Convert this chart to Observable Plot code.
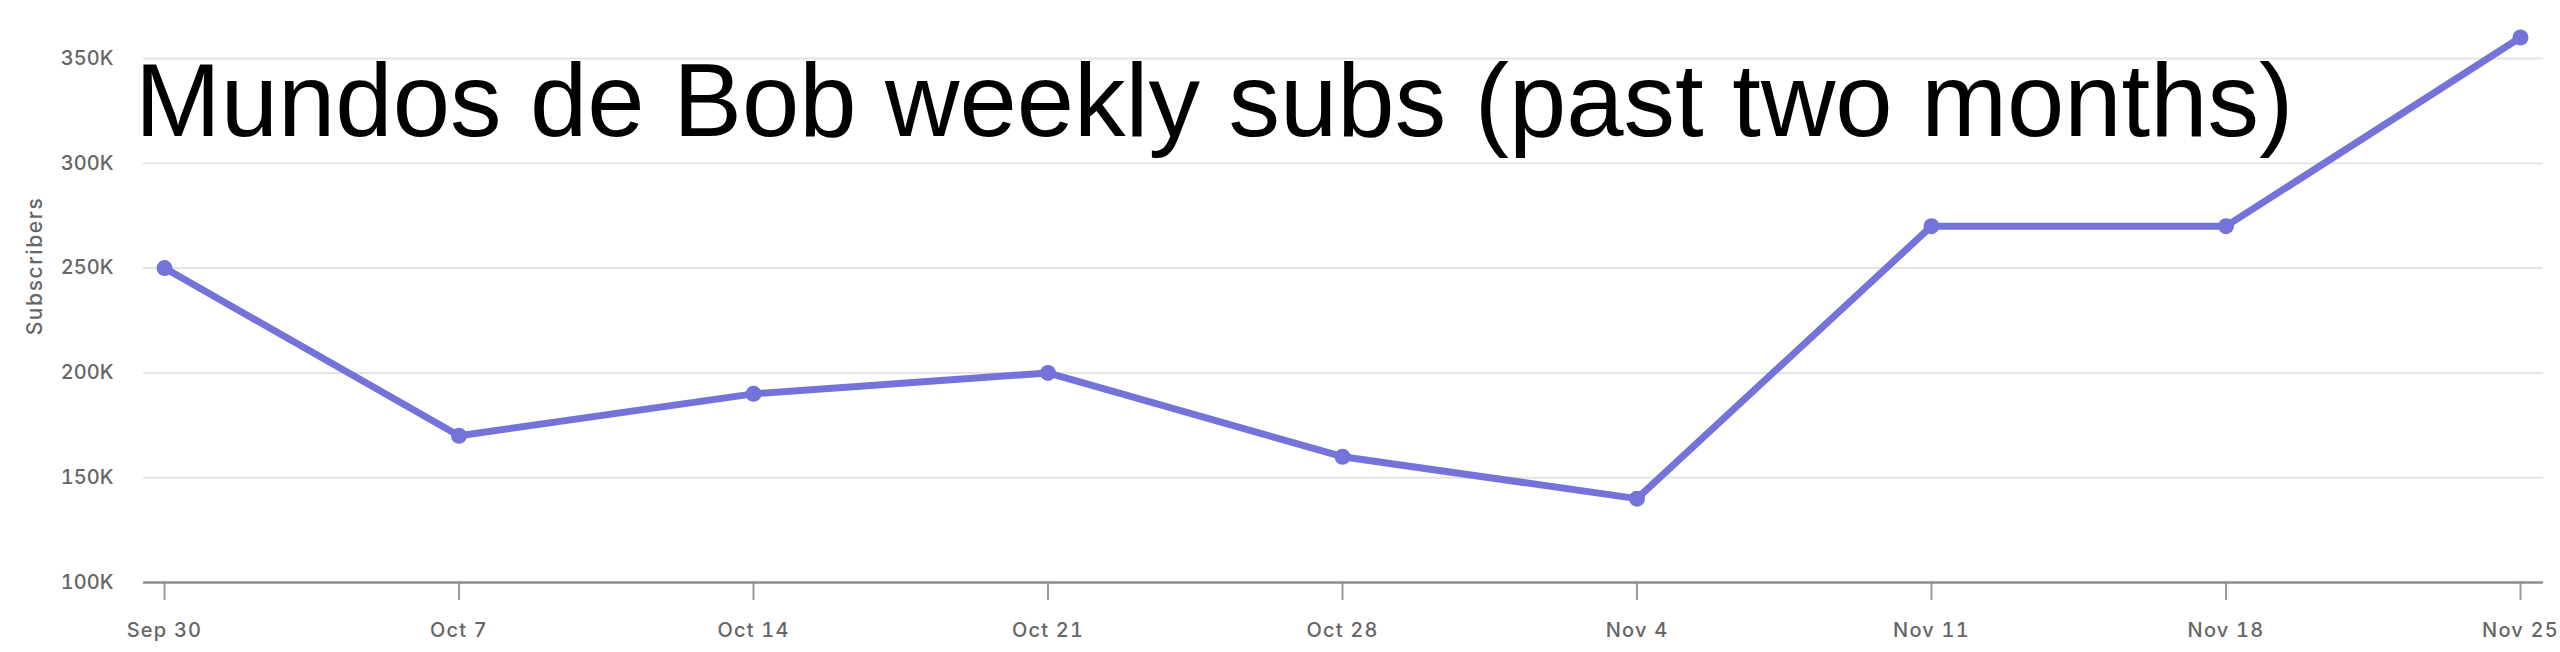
<!DOCTYPE html>
<html>
<head>
<meta charset="utf-8">
<script src="https://cdn.jsdelivr.net/npm/d3@7"></script>
<script src="https://cdn.jsdelivr.net/npm/@observablehq/plot@0.6"></script>
<style>
  html, body { margin: 0; padding: 0; background: #fff; }
  #chart { position: relative; width: 2560px; height: 652px; }
</style>
</head>
<body>
<div id="chart"></div>
<script>
const weeks = ["2023-09-30", "2023-10-07", "2023-10-14", "2023-10-21", "2023-10-28", "2023-11-04", "2023-11-11", "2023-11-18", "2023-11-25"];
const subscribers = [250000, 170000, 190000, 200000, 160000, 140000, 270000, 270000, 360000];
const yTicks = [100000, 150000, 200000, 250000, 300000, 350000];
const titleText = "Mundos de Bob weekly subs (past two months)";
const yLabel = "Subscribers";

const data = weeks.map((w, i) => ({date: new Date(w + "T00:00:00Z"), value: subscribers[i]}));

const fmtX = d3.utcFormat("%b %-d");
const fmtY = d => (d / 1000) + "K";
const fontFam = "Inter, 'Open Sans', sans-serif";

const plot = Plot.plot({
  width: 2560,
  height: 652,
  marginTop: 37,
  marginBottom: 70,
  marginLeft: 143,
  marginRight: 17,
  insetLeft: 21,
  insetRight: 23,
  style: {fontFamily: fontFam, fontSize: "20px", color: "#666", background: "#fff"},
  x: {type: "utc", domain: [data[0].date, data[data.length - 1].date]},
  y: {domain: [100000, 360000]},
  marks: [
    Plot.gridY(yTicks.slice(1), {stroke: "#e4e4e4", strokeOpacity: 1, strokeWidth: 2}),
    Plot.axisY(yTicks, {tickSize: 0, tickPadding: 30, tickFormat: fmtY, label: null, fill: "#666", fontWeight: 500, fontSize: 20}),
    Plot.axisX(data.map(d => d.date), {tickSize: 18, tickPadding: 22, tickFormat: fmtX, label: null, stroke: "#9a9a9a", strokeWidth: 2, strokeOpacity: 1, fill: "#666", fontWeight: 500, fontSize: 20}),
    Plot.ruleY([100000], {stroke: "#8c8c8c", strokeWidth: 2.5}),
    Plot.line(data, {x: "date", y: "value", stroke: "#7373d9", strokeWidth: 7, curve: "linear"}),
    Plot.dot(data, {x: "date", y: "value", r: 8, fill: "#7373d9", stroke: "none"})
  ]
});

document.getElementById("chart").appendChild(plot);

const svg = d3.select(plot);
svg.selectAll("g[aria-label='x-axis tick label'] text").style("letter-spacing", "1.2px");

svg.append("text")
  .attr("transform", "translate(34,266) rotate(-90)")
  .attr("text-anchor", "middle")
  .attr("dominant-baseline", "central")
  .attr("fill", "#666")
  .style("font-family", fontFam)
  .style("font-size", "21px")
  .style("font-weight", 500)
  .style("letter-spacing", "1.6px")
  .text(yLabel);

svg.append("text")
  .attr("x", 135)
  .attr("y", 136)
  .attr("text-anchor", "start")
  .attr("fill", "#000")
  .style("font-family", "'Liberation Sans', Arial, sans-serif")
  .style("font-size", "103px")
  .text(titleText);
</script>
</body>
</html>
